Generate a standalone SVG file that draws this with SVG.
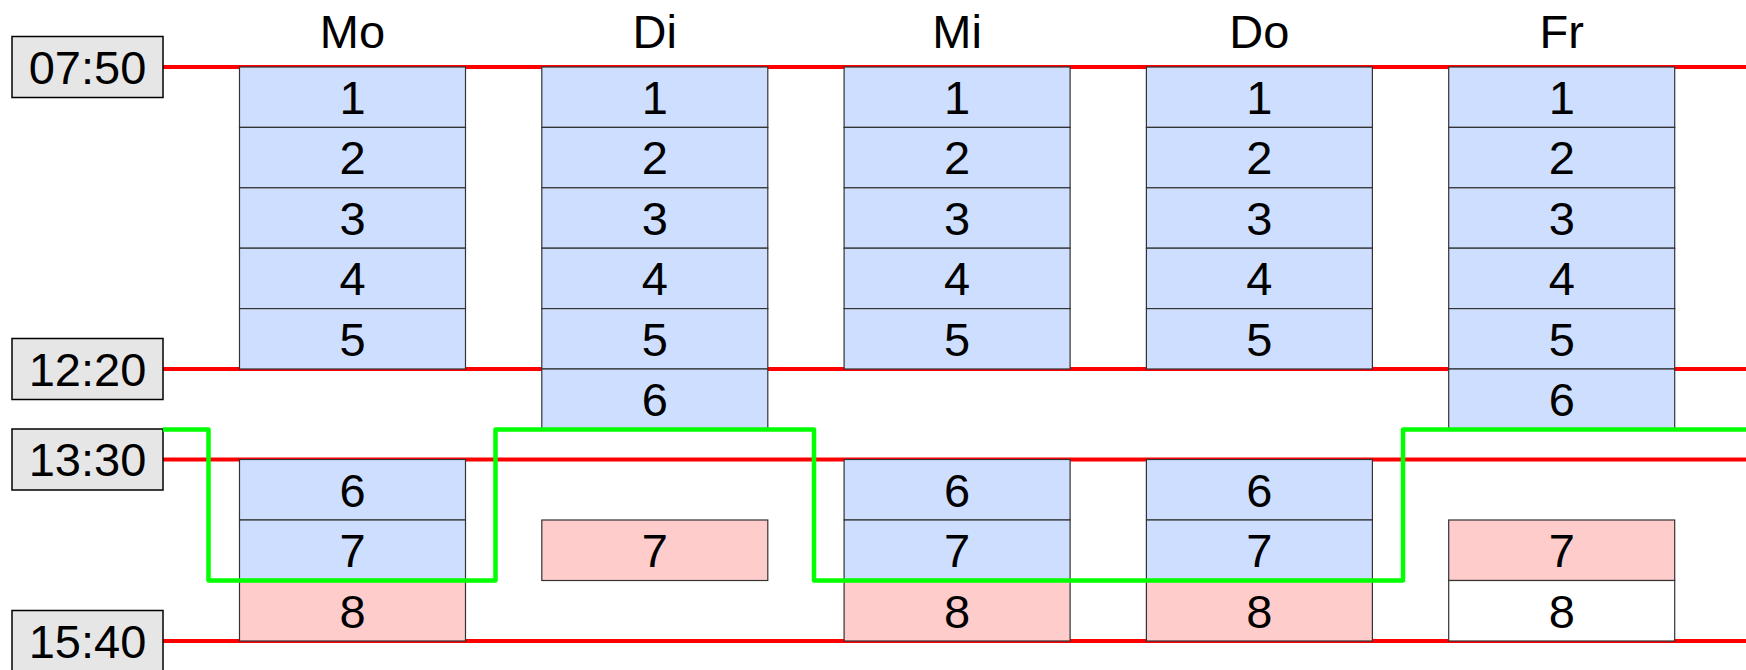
<svg xmlns="http://www.w3.org/2000/svg" width="1746" height="670" viewBox="0 0 1746 670">
<style>
text{font-family:"Liberation Sans",Arial,sans-serif;font-size:47px;fill:#000;text-anchor:middle}
.tb{fill:#e6e6e6;stroke:#000;stroke-width:1.5}
.b{fill:#cddeff;stroke:#333;stroke-width:1.2}
.p{fill:#ffcccc;stroke:#333;stroke-width:1.2}
.w{fill:#ffffff;stroke:#333;stroke-width:1.2}
.red{stroke:#ff0000;stroke-width:4;fill:none}
.grn{stroke:#00ff00;stroke-width:4.5;fill:none;stroke-linejoin:round}
</style>
<rect width="1746" height="670" fill="#fff"/>
<g id="lines-red">
<line class="red" x1="163" y1="67" x2="1746" y2="67"/>
<line class="red" x1="163" y1="369" x2="1746" y2="369"/>
<line class="red" x1="163" y1="459.5" x2="1746" y2="459.5"/>
<line class="red" x1="163" y1="641" x2="1746" y2="641"/>
</g>
<g id="t0750"><rect class="tb" x="12" y="36.5" width="151" height="61"/><text x="87.5" y="83.8">07:50</text></g>
<g id="t1220"><rect class="tb" x="12" y="338.5" width="151" height="61"/><text x="87.5" y="385.8">12:20</text></g>
<g id="t1330"><rect class="tb" x="12" y="429" width="151" height="61"/><text x="87.5" y="476.3">13:30</text></g>
<g id="t1540"><rect class="tb" x="12" y="610.5" width="151" height="61"/><text x="87.5" y="657.8">15:40</text></g>

<g id="hMo"><text x="352.5" y="48">Mo</text></g>
<g id="hDi"><text x="654.8" y="48">Di</text></g>
<g id="hMi"><text x="957.1" y="48">Mi</text></g>
<g id="hDo"><text x="1259.4" y="48">Do</text></g>
<g id="hFr"><text x="1561.7" y="48">Fr</text></g>

<!-- Mo -->
<g id="mo1"><rect class="b" x="239.5" y="67" width="226" height="60.4"/><text x="352.5" y="114">1</text></g>
<g id="mo2"><rect class="b" x="239.5" y="127.4" width="226" height="60.4"/><text x="352.5" y="174.4">2</text></g>
<g id="mo3"><rect class="b" x="239.5" y="187.8" width="226" height="60.4"/><text x="352.5" y="234.8">3</text></g>
<g id="mo4"><rect class="b" x="239.5" y="248.2" width="226" height="60.4"/><text x="352.5" y="295.2">4</text></g>
<g id="mo5"><rect class="b" x="239.5" y="308.6" width="226" height="60.4"/><text x="352.5" y="355.6">5</text></g>
<g id="mo6"><rect class="b" x="239.5" y="459.5" width="226" height="60.5"/><text x="352.5" y="506.5">6</text></g>
<g id="mo7"><rect class="b" x="239.5" y="520" width="226" height="60.5"/><text x="352.5" y="567">7</text></g>
<g id="mo8"><rect class="p" x="239.5" y="580.5" width="226" height="60.5"/><text x="352.5" y="627.5">8</text></g>

<!-- Di -->
<g id="di1"><rect class="b" x="541.8" y="67" width="226" height="60.4"/><text x="654.8" y="114">1</text></g>
<g id="di2"><rect class="b" x="541.8" y="127.4" width="226" height="60.4"/><text x="654.8" y="174.4">2</text></g>
<g id="di3"><rect class="b" x="541.8" y="187.8" width="226" height="60.4"/><text x="654.8" y="234.8">3</text></g>
<g id="di4"><rect class="b" x="541.8" y="248.2" width="226" height="60.4"/><text x="654.8" y="295.2">4</text></g>
<g id="di5"><rect class="b" x="541.8" y="308.6" width="226" height="60.4"/><text x="654.8" y="355.6">5</text></g>
<g id="di6"><rect class="b" x="541.8" y="369" width="226" height="60.4"/><text x="654.8" y="416">6</text></g>
<g id="di7"><rect class="p" x="541.8" y="520" width="226" height="60.5"/><text x="654.8" y="567">7</text></g>

<!-- Mi -->
<g id="mi1"><rect class="b" x="844.1" y="67" width="226" height="60.4"/><text x="957.1" y="114">1</text></g>
<g id="mi2"><rect class="b" x="844.1" y="127.4" width="226" height="60.4"/><text x="957.1" y="174.4">2</text></g>
<g id="mi3"><rect class="b" x="844.1" y="187.8" width="226" height="60.4"/><text x="957.1" y="234.8">3</text></g>
<g id="mi4"><rect class="b" x="844.1" y="248.2" width="226" height="60.4"/><text x="957.1" y="295.2">4</text></g>
<g id="mi5"><rect class="b" x="844.1" y="308.6" width="226" height="60.4"/><text x="957.1" y="355.6">5</text></g>
<g id="mi6"><rect class="b" x="844.1" y="459.5" width="226" height="60.5"/><text x="957.1" y="506.5">6</text></g>
<g id="mi7"><rect class="b" x="844.1" y="520" width="226" height="60.5"/><text x="957.1" y="567">7</text></g>
<g id="mi8"><rect class="p" x="844.1" y="580.5" width="226" height="60.5"/><text x="957.1" y="627.5">8</text></g>

<!-- Do -->
<g id="do1"><rect class="b" x="1146.4" y="67" width="226" height="60.4"/><text x="1259.4" y="114">1</text></g>
<g id="do2"><rect class="b" x="1146.4" y="127.4" width="226" height="60.4"/><text x="1259.4" y="174.4">2</text></g>
<g id="do3"><rect class="b" x="1146.4" y="187.8" width="226" height="60.4"/><text x="1259.4" y="234.8">3</text></g>
<g id="do4"><rect class="b" x="1146.4" y="248.2" width="226" height="60.4"/><text x="1259.4" y="295.2">4</text></g>
<g id="do5"><rect class="b" x="1146.4" y="308.6" width="226" height="60.4"/><text x="1259.4" y="355.6">5</text></g>
<g id="do6"><rect class="b" x="1146.4" y="459.5" width="226" height="60.5"/><text x="1259.4" y="506.5">6</text></g>
<g id="do7"><rect class="b" x="1146.4" y="520" width="226" height="60.5"/><text x="1259.4" y="567">7</text></g>
<g id="do8"><rect class="p" x="1146.4" y="580.5" width="226" height="60.5"/><text x="1259.4" y="627.5">8</text></g>

<!-- Fr -->
<g id="fr1"><rect class="b" x="1448.7" y="67" width="226" height="60.4"/><text x="1561.7" y="114">1</text></g>
<g id="fr2"><rect class="b" x="1448.7" y="127.4" width="226" height="60.4"/><text x="1561.7" y="174.4">2</text></g>
<g id="fr3"><rect class="b" x="1448.7" y="187.8" width="226" height="60.4"/><text x="1561.7" y="234.8">3</text></g>
<g id="fr4"><rect class="b" x="1448.7" y="248.2" width="226" height="60.4"/><text x="1561.7" y="295.2">4</text></g>
<g id="fr5"><rect class="b" x="1448.7" y="308.6" width="226" height="60.4"/><text x="1561.7" y="355.6">5</text></g>
<g id="fr6"><rect class="b" x="1448.7" y="369" width="226" height="60.4"/><text x="1561.7" y="416">6</text></g>
<g id="fr7"><rect class="p" x="1448.7" y="520" width="226" height="60.5"/><text x="1561.7" y="567">7</text></g>
<g id="fr8"><rect class="w" x="1448.7" y="580.5" width="226" height="60.5"/><text x="1561.7" y="627.5">8</text></g>

<g id="connectors">
<path class="grn" d="M163,429.5 H208.5 V580.5 H495.5 V429.5 H814 V580.5 H1403 V429.5 H1746"/>
</g>
</svg>
